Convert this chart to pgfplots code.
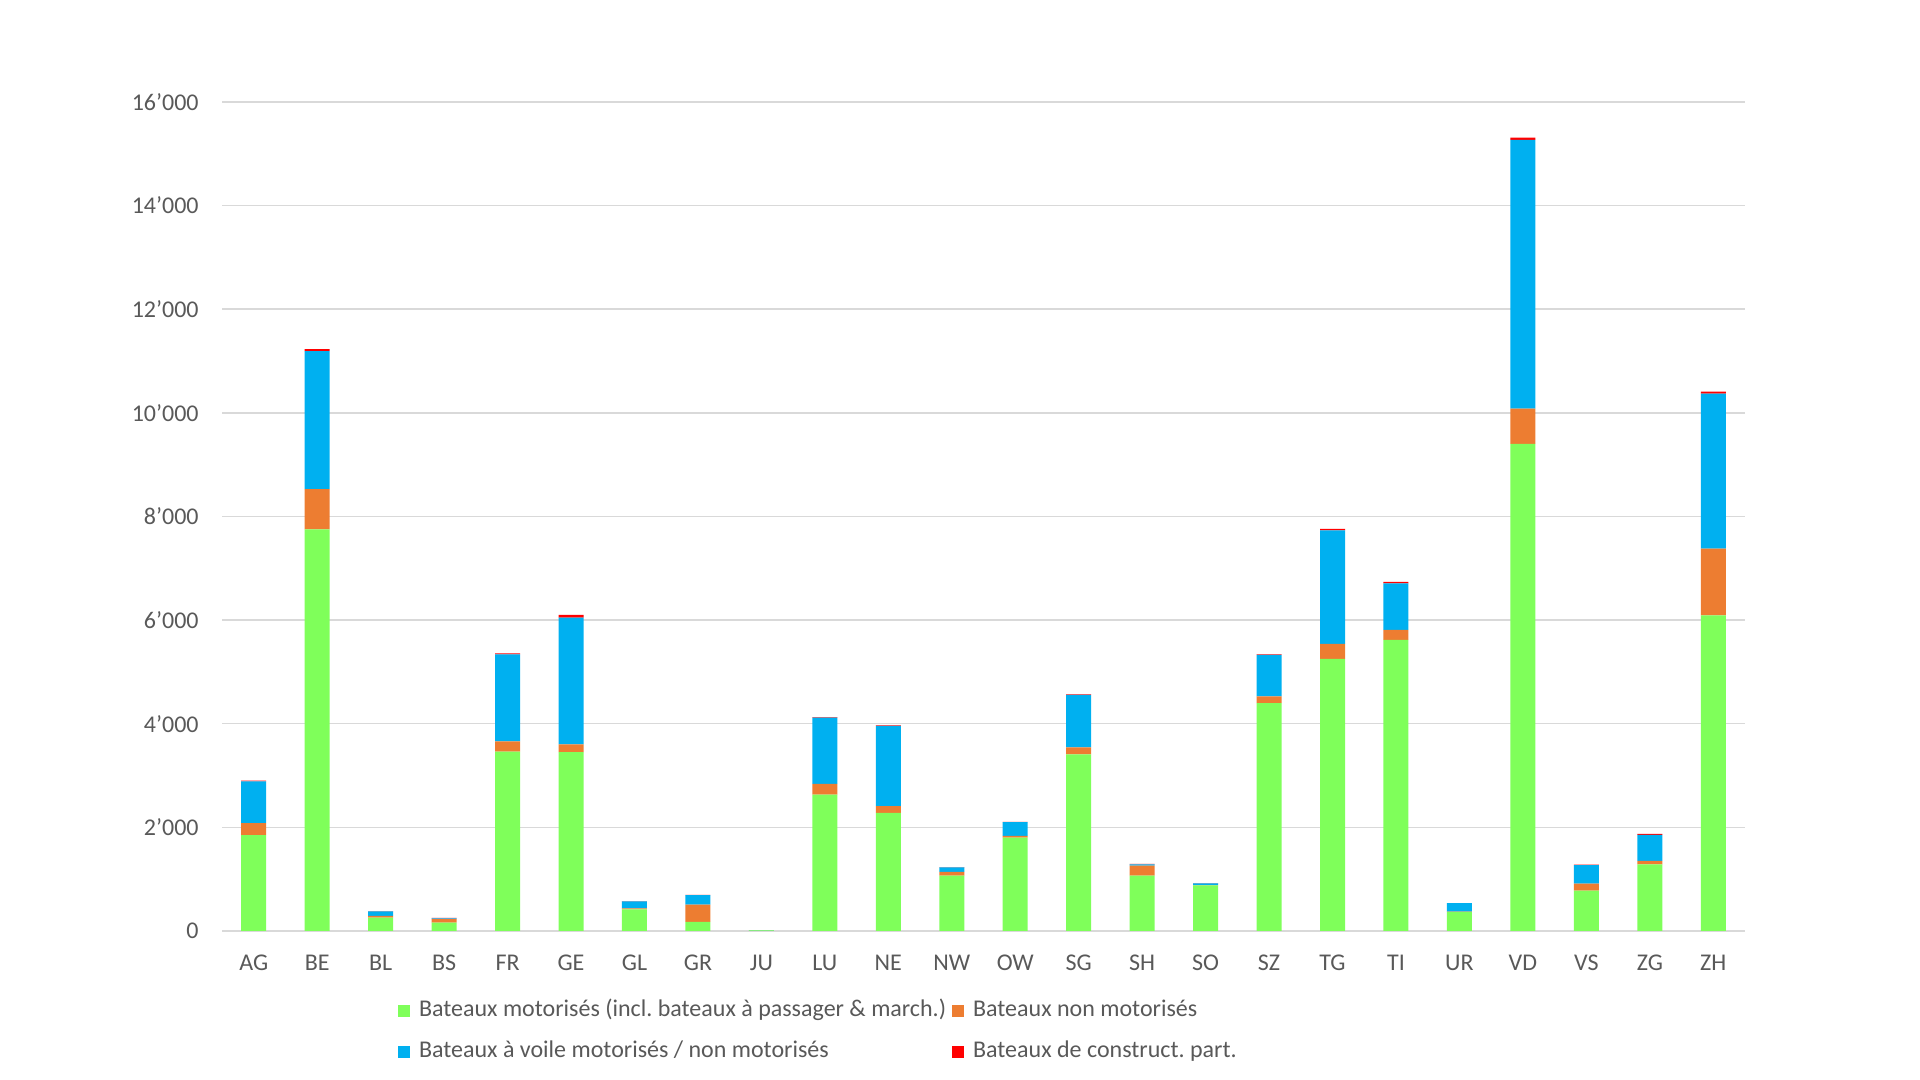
\documentclass[border=0pt]{standalone}
\usepackage{fontspec}
\setmainfont{Carlito}
\usepackage{pgfplots}
\usepackage{pgfplotstable}
\pgfplotsset{compat=1.18}
\frenchspacing

\definecolor{cgreen}{HTML}{7FFF5A}
\definecolor{corange}{HTML}{ED7D31}
\definecolor{cblue}{HTML}{00B0F0}
\definecolor{cred}{HTML}{FF0000}
\definecolor{txt}{HTML}{595959}
\definecolor{gridc}{HTML}{D9D9D9}

% canton, motorised, non-motorised, sailing, self-built
\pgfplotstableread{
x  mot   nonmot voile constr
0  1850  230    810   10
1  7750  780    2660  40
2  260   30     90    5
3  160   70     15    10
4  3460  200    1680  20
5  3450  150    2450  50
6  415   20     135   5
7  175   335    180   5
8  10    2      5     0
9  2630  210    1280  10
10 2280  130    1550  10
11 1070  70     90    5
12 1800  35     265   5
13 3410  135    1010  10
14 1070  190    25    10
15 880   5      35    5
16 4400  130    800   10
17 5250  290    2190  30
18 5620  190    900   30
19 370   5      165   0
20 9400  680    5190  40
21 780   135    355   10
22 1285  70     500   20
23 6090  1290   2990  40
}\boats

\begin{document}
\begin{tikzpicture}
\path[use as bounding box] (0,0) rectangle (960pt,540pt);
\begin{axis}[
    at={(111pt,74.5pt)}, anchor=south west,
    width=761.5pt, height=414.5pt, scale only axis,
    ybar stacked, bar width=12.5pt,
    xmin=-0.5, xmax=23.5, ymin=0, ymax=16000,
    xtick={0,...,23},
    xticklabels={AG,BE,BL,BS,FR,GE,GL,GR,JU,LU,NE,NW,OW,SG,SH,SO,SZ,TG,TI,UR,VD,VS,ZG,ZH},
    ytick={0,2000,...,16000},
    yticklabels={0,2’000,4’000,6’000,8’000,10’000,12’000,14’000,16’000},
    scaled y ticks=false,
    major tick length=0pt,
    axis line style={draw=none},
    ymajorgrids, xmajorgrids=false,
    grid style={draw=gridc, line width=0.75pt},
    tick label style={font=\fontsize{12}{14}\selectfont, text=txt},
    yticklabel style={inner sep=0pt, xshift=-11.5pt},
    xticklabel style={inner sep=0pt, anchor=north, text height=7.8pt, text depth=0pt, yshift=-12pt},
    legend columns=2,
    legend cell align=left,
    legend style={draw=none, inner sep=0pt, outer sep=0pt,
        at={(axis description cs:0.1156,-0.082)}, anchor=north west,
        font=\fontsize{12}{14}\selectfont, text=txt,
        nodes={text height=9pt, text depth=3pt, inner sep=0pt},
        row sep=8.5pt,
        /tikz/every odd column/.append style={column sep=4.5pt},
        /tikz/every even column/.append style={column sep=3pt}},
    legend image code/.code={\fill[#1] (0pt,-3pt) rectangle (6pt,3pt);},
]
\addplot[fill=cgreen, draw=none] table[x=x, y=mot] {\boats};
\addlegendentry{Bateaux motorisés (incl. bateaux à passager \& march.)}
\addplot[fill=corange, draw=none] table[x=x, y=nonmot] {\boats};
\addlegendentry{Bateaux non motorisés}
\addplot[fill=cblue, draw=none] table[x=x, y=voile] {\boats};
\addlegendentry{Bateaux à voile motorisés / non motorisés}
\addplot[fill=cred, draw=none] table[x=x, y=constr] {\boats};
\addlegendentry{Bateaux de construct. part.}
\end{axis}
\end{tikzpicture}
\end{document}
